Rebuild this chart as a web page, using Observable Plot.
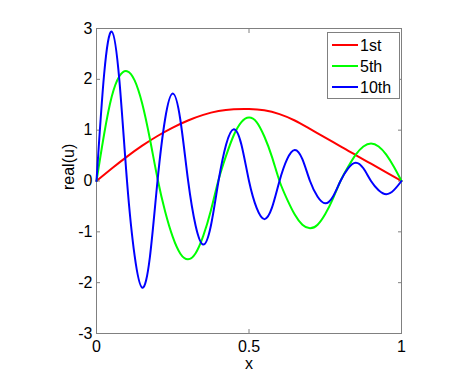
<!DOCTYPE html>
<html><head><meta charset="utf-8">
<script src="https://cdn.jsdelivr.net/npm/d3@7"></script>
<script src="https://cdn.jsdelivr.net/npm/@observablehq/plot@0.6"></script>
<style>
body{margin:0;background:#fff;}
#chart{width:471px;height:375px;}
</style>
</head><body><div id="chart"></div>
<script>
const xFine = [0,0.025,0.05,0.075,0.1,0.125,0.15,0.175,0.2,0.225,0.25,0.275,0.3,0.325,0.35,0.375,0.4,0.425,0.45,0.475,0.5,0.525,0.55,0.575,0.6,0.625,0.65,0.675,0.7,0.725,0.75,0.775,0.8,0.825,0.85,0.875,0.9,0.925,0.95,0.975,1];
const mode10 = [0,2.10,2.94,1.98,0,-1.47,-2.10,-1.50,0,1.22,1.72,1.20,0.02,-0.88,-1.25,-0.88,0,0.72,1.02,0.72,0,-0.53,-0.75,-0.53,0,0.43,0.61,0.43,0,-0.31,-0.44,-0.31,0,0.25,0.36,0.25,0,-0.18,-0.26,-0.18,0];
const mode5 = [0,0.92,1.66,2.06,2.16,1.98,1.52,0.83,0.05,-0.60,-1.10,-1.43,-1.54,-1.42,-1.08,-0.58,0.02,0.50,0.90,1.16,1.25,1.16,0.88,0.48,0,-0.36,-0.66,-0.86,-0.93,-0.86,-0.65,-0.35,0,0.28,0.52,0.68,0.74,0.68,0.52,0.28,0];
const xCoarse = [0,0.05,0.1,0.15,0.2,0.25,0.3,0.35,0.4,0.45,0.5,0.55,0.6,0.65,0.7,0.75,0.8,0.85,0.9,0.95,1];
const mode1 = [0,0.245,0.48,0.695,0.885,1.05,1.19,1.30,1.375,1.41,1.415,1.39,1.315,1.19,1.025,0.855,0.68,0.51,0.34,0.17,0];
const seriesNames = ["1st","5th","10th"];
const seriesColors = ["#ff0000","#00ff00","#0000ff"];
const xTicks = [0,0.5,1];
const yTicks = [-3,-2,-1,0,1,2,3];
const xLabel = "x";
const yLabel = "real(u)";

const rows = [];
xCoarse.forEach((x,i)=>rows.push({series:"1st",x,y:mode1[i]}));
xFine.forEach((x,i)=>rows.push({series:"5th",x,y:mode5[i]}));
xFine.forEach((x,i)=>rows.push({series:"10th",x,y:mode10[i]}));

const font = "'Liberation Sans', Arial, Helvetica, sans-serif";
const axisGray = "#808080";
const blank = () => "";

const svg = Plot.plot({
  width:471, height:375,
  marginLeft:96, marginRight:70, marginTop:28, marginBottom:42,
  style:{fontFamily:font, fontSize:"16px", background:"#fff", color:"#000"},
  x:{domain:[0,1]},
  y:{domain:[-3,3]},
  color:{domain:seriesNames, range:seriesColors},
  marks:[
    Plot.frame({stroke:axisGray}),
    Plot.axisX({anchor:"bottom", ticks:xTicks, tickSize:-4, stroke:axisGray, tickFormat:blank, label:null}),
    Plot.axisX({anchor:"top", ticks:xTicks, tickSize:-4, stroke:axisGray, tickFormat:blank, label:null}),
    Plot.axisY({anchor:"left", ticks:yTicks, tickSize:-4, stroke:axisGray, tickFormat:blank, label:null}),
    Plot.axisY({anchor:"right", ticks:yTicks, tickSize:-4, stroke:axisGray, tickFormat:blank, label:null}),
    Plot.axisX({anchor:"bottom", ticks:xTicks, tickSize:0, tickPadding:7, tickFormat:d=>String(d), label:null, fill:"#000"}),
    Plot.axisY({anchor:"left", ticks:yTicks, tickSize:0, tickPadding:4, tickFormat:d=>String(d), label:null, fill:"#000"}),
    Plot.text([xLabel], {frameAnchor:"bottom", dy:30, text:d=>d, fill:"#000", lineAnchor:"middle"}),
    Plot.text([yLabel], {frameAnchor:"left", dx:-28, dy:9, rotate:-90, text:d=>d, fill:"#000", lineAnchor:"middle"}),
    Plot.line(rows, {x:"x", y:"y", z:"series", stroke:"series", strokeWidth:2, curve:"natural"})
  ]
});

// legend
const g = d3.select(svg).append("g").attr("font-family", font).attr("font-size", 16).attr("text-anchor","start");
g.append("rect").attr("x",327.5).attr("y",32.5).attr("width",72).attr("height",66)
  .attr("fill","#fff").attr("stroke",axisGray);
seriesNames.forEach((name,i)=>{
  const yy = 45 + i*21;
  g.append("line").attr("x1",332).attr("x2",358).attr("y1",yy).attr("y2",yy)
    .attr("stroke",seriesColors[i]).attr("stroke-width",2);
  g.append("text").attr("x",360).attr("y",yy).attr("dy","0.35em").attr("fill","#000").attr("text-anchor","start").text(name);
});

document.getElementById("chart").appendChild(svg);
</script>
</body></html>
